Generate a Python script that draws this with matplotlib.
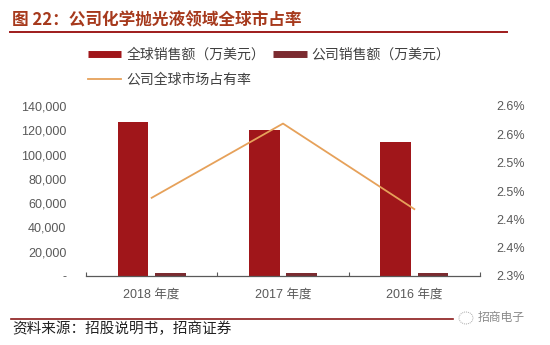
import matplotlib
matplotlib.use("Agg")
import matplotlib.pyplot as plt
from matplotlib.lines import Line2D
from matplotlib.patches import Ellipse
import numpy as np

plt.rcParams['font.family'] = ['Liberation Sans', 'Noto Sans CJK SC', 'DejaVu Sans']

# ---- data ----
categories = ["2018 年度", "2017 年度", "2016 年度"]
global_sales = [127000, 120000, 110000]      # 全球销售额（万美元）
company_sales = [2400, 2450, 2250]           # 公司销售额（万美元）
market_share = [2.438, 2.569, 2.418]         # 公司全球市场占有率 (%)
left_ticks = [0, 20000, 40000, 60000, 80000, 100000, 120000, 140000]
left_labels = ["-", "20,000", "40,000", "60,000", "80,000", "100,000", "120,000", "140,000"]
right_ticks = [2.30, 2.35, 2.40, 2.45, 2.50, 2.55, 2.60]
right_labels = ["2.3%", "2.4%", "2.4%", "2.5%", "2.5%", "2.6%", "2.6%"]
series_names = ["全球销售额（万美元）", "公司销售额（万美元）", "公司全球市场占有率"]
title = "图 22：公司化学抛光液领域全球市占率"
source = "资料来源：招股说明书，招商证券"

c_global = "#A0161A"
c_company = "#7B2B30"
c_line = "#E6A15A"
c_tick = "#595959"

W, H = 550, 345
fig = plt.figure(figsize=(W / 100, H / 100), dpi=100)

def fx(px):
    return px / W

def fy(py):
    return 1 - py / H

ax = fig.add_axes([fx(86), fy(276), fx(480) - fx(86), fy(106) - fy(276)])
x = np.arange(len(categories))
w = 0.235
ax.bar(x - 0.142, global_sales, width=w, color=c_global, zorder=2)
ax.bar(x + 0.142, company_sales, width=w, color=c_company, zorder=2)
ax.set_xlim(-0.5, len(categories) - 0.5)
ax.set_ylim(0, 140000)
ax.set_yticks(left_ticks)
ax.set_yticklabels(left_labels)
ax.set_xticks(x)
ax.set_xticklabels(categories)
ax.set_xticks(np.arange(-0.5, len(categories)), minor=True)
ax.tick_params(axis='x', which='major', length=0, pad=9, labelsize=9, labelcolor=c_tick)
ax.tick_params(axis='x', which='minor', length=3, direction='in', color=c_tick, width=0.8)
ax.tick_params(axis='y', length=0, pad=14, labelsize=9, labelcolor=c_tick)
for s in ['top', 'right', 'left']:
    ax.spines[s].set_visible(False)
ax.spines['bottom'].set_color(c_tick)
ax.spines['bottom'].set_linewidth(0.9)

ax2 = ax.twinx()
ax2.plot(x, market_share, color=c_line, lw=1.3, zorder=3)
ax2.set_ylim(2.3, 2.6)
ax2.set_yticks(right_ticks)
ax2.set_yticklabels(right_labels)
ax2.tick_params(axis='y', length=0, pad=12, labelsize=9, labelcolor=c_tick)
for s in ['top', 'right', 'left', 'bottom']:
    ax2.spines[s].set_visible(False)

# legend
handles = [
    Line2D([], [], color=c_global, lw=5, solid_capstyle='butt'),
    Line2D([], [], color=c_line, lw=1.3),
    Line2D([], [], color=c_company, lw=5, solid_capstyle='butt'),
]
labels = [series_names[0], series_names[2], series_names[1]]
leg = fig.legend(handles, labels, ncol=2, loc='upper left',
                 bbox_to_anchor=(fx(88), fy(48)), frameon=False,
                 borderpad=0, borderaxespad=0, handlelength=2.4,
                 handletextpad=0.35, columnspacing=0.6, labelspacing=0.75,
                 prop={'family': ['Noto Sans CJK SC'], 'size': 10})
for t in leg.get_texts():
    t.set_color("#404040")

# title and decorations
fig.text(fx(12), fy(20), title, ha='left', va='center', fontsize=12,
         fontweight='bold', color="#A6391C", family=['Noto Sans CJK SC'])
fig.add_artist(Line2D([fx(10), fx(507)], [fy(31.5), fy(31.5)], color="#9E1B1B", lw=1.4))
fig.add_artist(Line2D([fx(11), fx(453)], [fy(319), fy(319)], color="#8B1A1A", lw=1.2))
fig.text(fx(12), fy(329), source, ha='left', va='center', fontsize=10.5,
         color="#222222", family=['Noto Sans CJK SC'])
fig.text(fx(478), fy(318), "招商电子", ha='left', va='center', fontsize=8.5,
         color="#8a8a8a", family=['Noto Sans CJK SC'])
fig.add_artist(Ellipse((fx(466), fy(318)), fx(14), 12 / H, fill=False,
                       ls=(0, (1, 1)), color="#aaaaaa", lw=0.7))

fig.savefig("out.png", dpi=100)
